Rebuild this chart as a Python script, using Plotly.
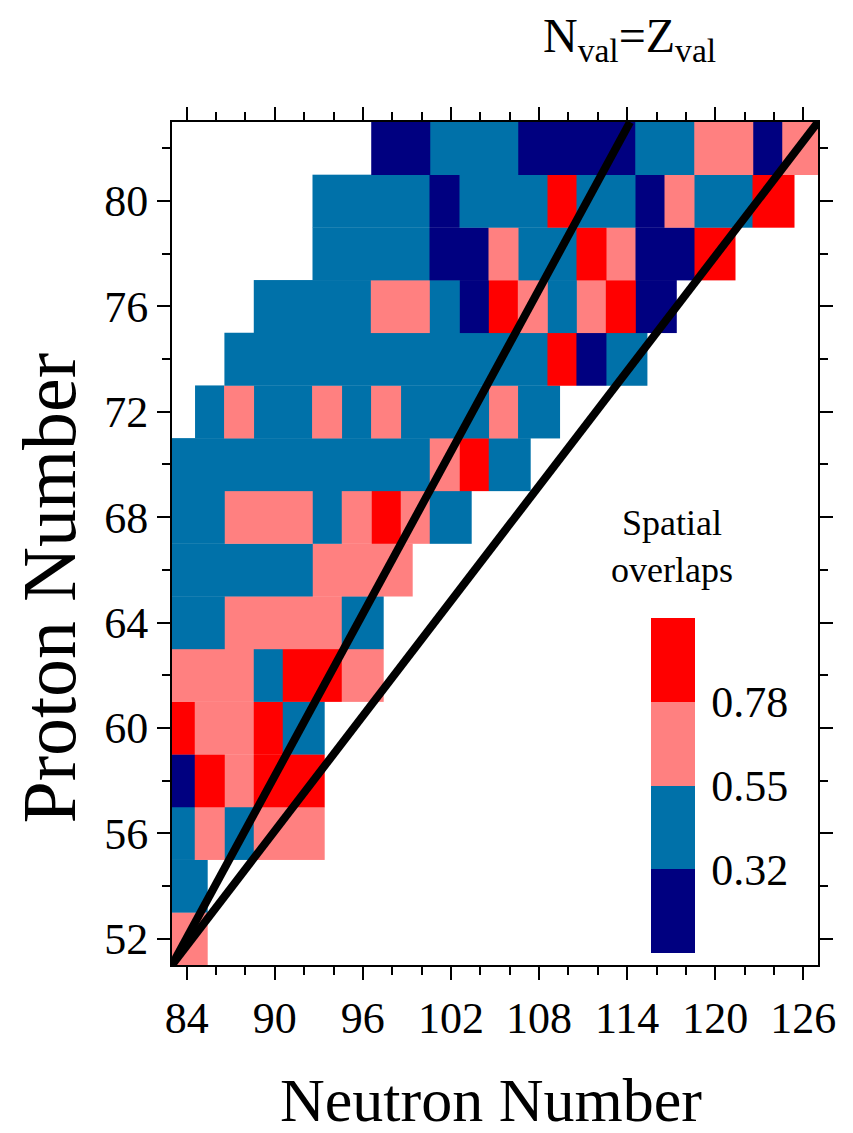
import plotly.graph_objects as go

# ---------------- data ----------------
# Proton number of each row of even-even nuclei
proton_z = [52, 54, 56, 58, 60, 62, 64, 66, 68, 70, 72, 74, 76, 78, 80, 82]
# First (lowest) neutron number present in each row
first_n = [84, 84, 84, 84, 84, 84, 84, 84, 84, 84, 86, 88, 90, 94, 94, 98]

# Spatial overlap values along each row (N = first_n, first_n+2, ...)
ov_z52 = [0.66]
ov_z54 = [0.43]
ov_z56 = [0.43, 0.66, 0.43, 0.66, 0.66]
ov_z58 = [0.20, 0.90, 0.66, 0.90, 0.90]
ov_z60 = [0.90, 0.66, 0.66, 0.90, 0.43]
ov_z62 = [0.66, 0.66, 0.66, 0.43, 0.90, 0.90, 0.66]
ov_z64 = [0.43, 0.43, 0.66, 0.66, 0.66, 0.66, 0.43]
ov_z66 = [0.43, 0.43, 0.43, 0.43, 0.43, 0.66, 0.66, 0.66]
ov_z68 = [0.43, 0.43, 0.66, 0.66, 0.66, 0.43, 0.66, 0.90, 0.66, 0.43]
ov_z70 = [0.43, 0.43, 0.43, 0.43, 0.43, 0.43, 0.43, 0.43, 0.43, 0.66, 0.90, 0.43]
ov_z72 = [0.43, 0.66, 0.43, 0.43, 0.66, 0.43, 0.66, 0.43, 0.43, 0.43, 0.66, 0.43]
ov_z74 = [0.43, 0.43, 0.43, 0.43, 0.43, 0.43, 0.43, 0.43, 0.43, 0.43, 0.43, 0.90, 0.20, 0.43]
ov_z76 = [0.43, 0.43, 0.43, 0.43, 0.66, 0.66, 0.43, 0.20, 0.90, 0.66, 0.43, 0.66, 0.90, 0.20]
ov_z78 = [0.43, 0.43, 0.43, 0.43, 0.20, 0.20, 0.66, 0.43, 0.43, 0.90, 0.66, 0.20, 0.20, 0.90]
ov_z80 = [0.43, 0.43, 0.43, 0.43, 0.20, 0.43, 0.43, 0.43, 0.90, 0.43, 0.43, 0.20, 0.66, 0.43, 0.43, 0.90]
ov_z82 = [0.20, 0.20, 0.43, 0.43, 0.43, 0.20, 0.20, 0.20, 0.20, 0.43, 0.43, 0.66, 0.66, 0.20, 0.66]

overlap_rows = [ov_z52, ov_z54, ov_z56, ov_z58, ov_z60, ov_z62, ov_z64, ov_z66,
                ov_z68, ov_z70, ov_z72, ov_z74, ov_z76, ov_z78, ov_z80, ov_z82]

# Colour-bar levels
level_vals = [0.32, 0.55, 0.78]
level_text = ["0.32", "0.55", "0.78"]
z_min, z_max = 0.09, 1.01

# N_val = Z_val guide lines (N, Z end points)
line_a_n = [83, 114.2]
line_a_z = [51, 83]
line_b_n = [83, 127]
line_b_z = [51, 83]

# ---------------- style ----------------
NAVY, BLUE, PINK, RED = "#000080", "#0071A9", "#FF8080", "#FF0000"
FONT = "Liberation Serif, Times New Roman, serif"
b1 = (level_vals[0] - z_min) / (z_max - z_min)
b2 = (level_vals[1] - z_min) / (z_max - z_min)
b3 = (level_vals[2] - z_min) / (z_max - z_min)
colorscale = [[0, NAVY], [b1, NAVY], [b1, BLUE], [b2, BLUE],
              [b2, PINK], [b3, PINK], [b3, RED], [1, RED]]

CELL_LEFT = 1.43   # cell left edge offset from N
ROW_END = 1.4      # last cell of a row extends further

fig = go.Figure()

for i, (zp, n0, vals) in enumerate(zip(proton_z, first_n, overlap_rows)):
    ns = [n0 + 2 * k for k in range(len(vals))]
    edges = [n - CELL_LEFT for n in ns] + [ns[-1] + ROW_END]
    fig.add_trace(go.Heatmap(
        x=edges, y=[zp - 1, zp + 1], z=[vals],
        colorscale=colorscale, zmin=z_min, zmax=z_max,
        showscale=(i == 0),
        colorbar=dict(
            x=0.7415, xanchor="left", xref="paper",
            y=0.2129, yanchor="middle", yref="paper",
            len=335, lenmode="pixels", thickness=44, thicknessmode="pixels",
            xpad=0, ypad=0,
            outlinewidth=0, ticks="outside", ticklen=8,
            tickcolor="rgba(0,0,0,0)",
            tickvals=level_vals, ticktext=level_text,
            tickfont=dict(family=FONT, size=44, color="black"),
            ticklabelposition="outside",
        ),
        hoverinfo="skip",
    ))

for xs, ys in [(line_a_n, line_a_z), (line_b_n, line_b_z)]:
    fig.add_trace(go.Scatter(x=xs, y=ys, mode="lines",
                             line=dict(color="black", width=8),
                             showlegend=False, hoverinfo="skip"))

axis_common = dict(
    showline=True, linewidth=2, linecolor="black", mirror="ticks",
    ticks="outside", ticklen=13, tickwidth=2, tickcolor="black",
    showgrid=False, zeroline=False,
    tickfont=dict(family=FONT, size=44, color="black"),
    minor=dict(ticks="outside", ticklen=8, tickwidth=2, tickcolor="black", dtick=2, showgrid=False),
)

fig.update_xaxes(range=[83, 127], tick0=84, dtick=6, **axis_common)
fig.update_yaxes(range=[51, 83], tick0=52, dtick=4, **axis_common)

# page body adds an 8 px offset, so the figure is 8 px smaller and margins shifted
fig.update_layout(
    width=845, height=1125,
    margin=dict(l=164, r=35, t=114, b=168),
    plot_bgcolor="white", paper_bgcolor="white",
    showlegend=False,
    font=dict(family=FONT, color="black"),
    annotations=[
        dict(text="N<sub>val</sub>=Z<sub>val</sub>", xref="paper", yref="paper",
             x=0.708, y=1.099, xanchor="center", yanchor="middle",
             showarrow=False, font=dict(family=FONT, size=48, color="black")),
        dict(text="Spatial<br>overlaps", xref="paper", yref="paper",
             x=0.774, y=0.4967, xanchor="center", yanchor="middle",
             showarrow=False, font=dict(family=FONT, size=36, color="black")),
        dict(text="Neutron Number", xref="paper", yref="paper",
             x=0.494, y=-0.160, xanchor="center", yanchor="middle",
             showarrow=False, font=dict(family=FONT, size=62, color="black")),
        dict(text="Proton Number", xref="paper", yref="paper",
             x=-0.191, y=0.4472, xanchor="center", yanchor="middle", textangle=-90,
             showarrow=False, font=dict(family=FONT, size=76, color="black")),
    ],
)

fig.write_html("out.html")
